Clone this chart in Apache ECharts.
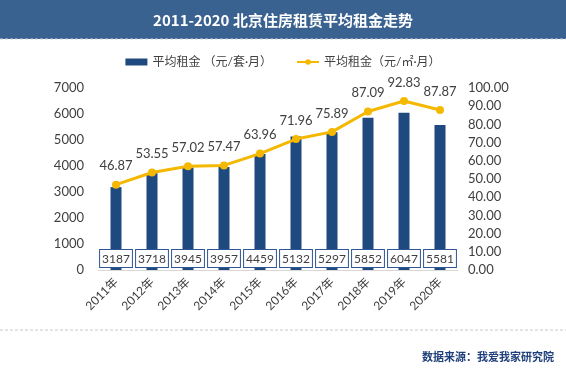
<!DOCTYPE html>
<html>
<head>
<meta charset="utf-8">
<script src="https://cdn.jsdelivr.net/npm/echarts@6/dist/echarts.min.js"></script>
<style>
  html, body { margin: 0; padding: 0; background: #fff; }
  #main { width: 566px; height: 376px; }
</style>
</head>
<body>
<div id="main"></div>
<script>
var years = ['2011年', '2012年', '2013年', '2014年', '2015年', '2016年', '2017年', '2018年', '2019年', '2020年'];
var rentPerSuite = [3187, 3718, 3945, 3957, 4459, 5132, 5297, 5852, 6047, 5581];
var rentPerSqm = [46.87, 53.55, 57.02, 57.47, 63.96, 71.96, 75.89, 87.09, 92.83, 87.87];

var font = 'Lato, "Noto Sans CJK SC", sans-serif';
var cjk = '"Noto Sans CJK SC", sans-serif';
var myChart = echarts.init(document.getElementById('main'));

var option = {
  backgroundColor: '#fff',
  textStyle: { fontFamily: font },
  title: {
    text: '2011-2020 北京住房租赁平均租金走势',
    left: 'center',
    top: 8,
    textStyle: { color: '#fff', fontSize: 15, fontWeight: 'bold', fontFamily: cjk }
  },
  graphic: [
    { type: 'rect', z: -1, shape: { x: 0, y: 0, width: 566, height: 39 }, style: { fill: '#3a6291' } },
    { type: 'line', shape: { x1: 0, y1: 39, x2: 566, y2: 39 }, style: { stroke: '#c8d2e0', lineWidth: 1, lineDash: [3, 2] } },
    { type: 'line', shape: { x1: 0, y1: 330, x2: 566, y2: 330 }, style: { stroke: '#c8c8c8', lineWidth: 1, lineDash: [3, 2] } },
    { type: 'text', right: 12, top: 351, style: { text: '数据来源：我爱我家研究院', fill: '#1f3f7a', font: 'bold 11px ' + cjk } }
  ],
  legend: {
    top: 51,
    left: 'center',
    itemGap: 24,
    itemWidth: 22,
    itemHeight: 7,
    textStyle: { color: '#404040', fontSize: 12, fontFamily: font },
    data: [
      { name: '平均租金 （元/套·月）', icon: 'rect' },
      { name: '平均租金（元/㎡·月）' }
    ]
  },
  grid: { left: 98, right: 108, top: 88, bottom: 106 },
  xAxis: {
    type: 'category',
    data: years,
    axisLine: { lineStyle: { color: '#d9d9d9' } },
    axisTick: { show: false },
    axisLabel: { rotate: 45, color: '#404040', fontSize: 12, margin: 10 }
  },
  yAxis: [
    {
      type: 'value', min: 0, max: 7000, interval: 1000,
      splitLine: { show: false },
      axisLine: { show: false },
      axisLabel: { color: '#404040', fontSize: 13, margin: 14, formatter: function (v) { return String(v); } }
    },
    {
      type: 'value', min: 0, max: 100, interval: 10,
      splitLine: { show: false },
      axisLine: { show: false },
      axisLabel: { color: '#404040', fontSize: 13, margin: 10, formatter: function (v) { return v.toFixed(2); } }
    }
  ],
  series: [
    {
      name: '平均租金 （元/套·月）',
      type: 'bar',
      data: rentPerSuite,
      barWidth: 11,
      itemStyle: { color: '#1f4a7f' },
      label: {
        show: true,
        position: 'insideBottom',
        distance: 3,
        color: '#404040',
        fontSize: 12,
        fontFamily: 'Lato',
        backgroundColor: '#fff',
        borderColor: '#2f5597',
        borderWidth: 1,
        padding: [3, 2, 2, 2]
      }
    },
    {
      name: '平均租金（元/㎡·月）',
      type: 'line',
      yAxisIndex: 1,
      data: rentPerSqm,
      symbol: 'circle',
      symbolSize: 8,
      lineStyle: { color: '#f5b800', width: 3 },
      itemStyle: { color: '#f5b800' },
      label: {
        show: true,
        position: 'top',
        distance: 8,
        color: '#404040',
        fontSize: 13,
        formatter: function (p) { return p.value.toFixed(2); }
      }
    }
  ]
};

myChart.setOption(option);
</script>
</body>
</html>
